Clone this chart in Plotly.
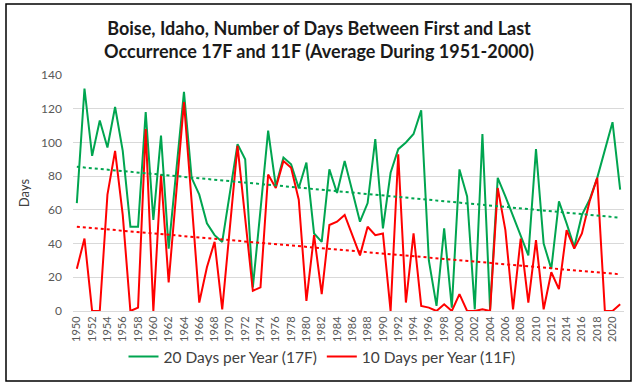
import numpy as np
import plotly.graph_objects as go

years = list(range(1950, 2022))
days_17f = [64, 132, 92, 113, 97, 121, 95, 50, 50, 118,
            54, 104, 37, 83, 130, 79, 69, 52, 45, 41,
            70, 99, 90, 14, 60, 107, 74, 91, 87, 73,
            88, 46, 41, 84, 70, 89, 71, 53, 64, 102,
            49, 82, 96, 100, 105, 119, 30, 3, 49, 2,
            84, 68, 1, 105, 1, 79, 68, 56, 45, 33,
            96, 40, 25, 65, 52, 38, 57, 66, 79, 96,
            112, 72]
days_11f = [25, 43, 0, 0, 69, 95, 57, 0, 2, 108,
            0, 81, 17, 68, 124, 65, 5, 26, 41, 1,
            50, 98, 55, 12, 14, 81, 73, 89, 85, 66,
            6, 45, 10, 51, 53, 57, 45, 33, 50, 45,
            46, 0, 93, 5, 46, 3, 2, 0, 4, 0,
            10, 0, 0, 1, 0, 73, 48, 1, 43, 5,
            42, 1, 23, 13, 48, 37, 46, 65, 79, 0,
            0, 4]
name_17f = "20 Days per Year (17F)"
name_11f = "10 Days per Year (11F)"
tick_years = list(range(1950, 2022, 2))

GREEN = "#00A550"
RED = "#FF0000"

x = np.array(years, dtype=float)


def trend(vals):
    k, b = np.polyfit(x, np.array(vals, dtype=float), 1)
    return k * x + b


fig = go.Figure()
fig.add_trace(go.Scatter(x=years, y=days_17f, mode="lines", name=name_17f,
                         line=dict(color=GREEN, width=2)))
fig.add_trace(go.Scatter(x=years, y=days_11f, mode="lines", name=name_11f,
                         line=dict(color=RED, width=2)))
fig.add_trace(go.Scatter(x=years, y=trend(days_17f), mode="lines", showlegend=False,
                         line=dict(color=GREEN, width=2, dash="dot"), hoverinfo="skip"))
fig.add_trace(go.Scatter(x=years, y=trend(days_11f), mode="lines", showlegend=False,
                         line=dict(color=RED, width=2, dash="dot"), hoverinfo="skip"))

L, R, T, B = 73, 14, 75, 75
W, H = 638, 386
pw, ph = W - L - R, H - T - B


def px_x(p):
    return (p - L) / pw


def px_y(p):
    return (H - B - p) / ph


fig.add_shape(type="rect", xref="paper", yref="paper",
              x0=px_x(6), x1=px_x(631), y0=px_y(381), y1=px_y(4),
              line=dict(color="#000000", width=1.5), fillcolor="rgba(0,0,0,0)")

fig.update_layout(
    width=W, height=H,
    margin=dict(l=L, r=R, t=T, b=B),
    paper_bgcolor="white", plot_bgcolor="white",
    font=dict(family="Lato", color="#595959"),
    title=dict(text="<b>Boise, Idaho, Number of Days Between First and Last<br>"
                    "Occurrence 17F and 11F (Average During 1951-2000)</b>",
               x=0.5, xanchor="center", y=1 - 35 / H, yanchor="middle",
               font=dict(family="Lato", size=18, color="#1a1a1a")),
    legend=dict(orientation="h", x=px_x(322), xanchor="center", y=px_y(357), yanchor="middle",
                font=dict(size=15.5, color="#404040"), bgcolor="rgba(0,0,0,0)",
                itemwidth=30, tracegroupgap=0),
    showlegend=True,
)
fig.update_xaxes(range=[1949.5, 2021.5], tickmode="array", tickvals=tick_years,
                 ticktext=[str(v) for v in tick_years], tickangle=-90,
                 tickfont=dict(size=11, color="#595959"), showgrid=False,
                 showline=True, linecolor="#D9D9D9", linewidth=1, ticks="",
                 zeroline=False, fixedrange=True)
fig.update_yaxes(range=[0, 140], dtick=20, showgrid=True, gridcolor="#D9D9D9", gridwidth=1,
                 tickfont=dict(size=12, color="#595959"), zeroline=False,
                 ticklabelstandoff=10,
                 title=dict(text="Days", font=dict(size=13, color="#404040"), standoff=8),
                 fixedrange=True)

fig.write_html("out.html", config={"displayModeBar": False},
               post_script="document.body.style.margin='0';document.body.style.overflow='hidden';")
